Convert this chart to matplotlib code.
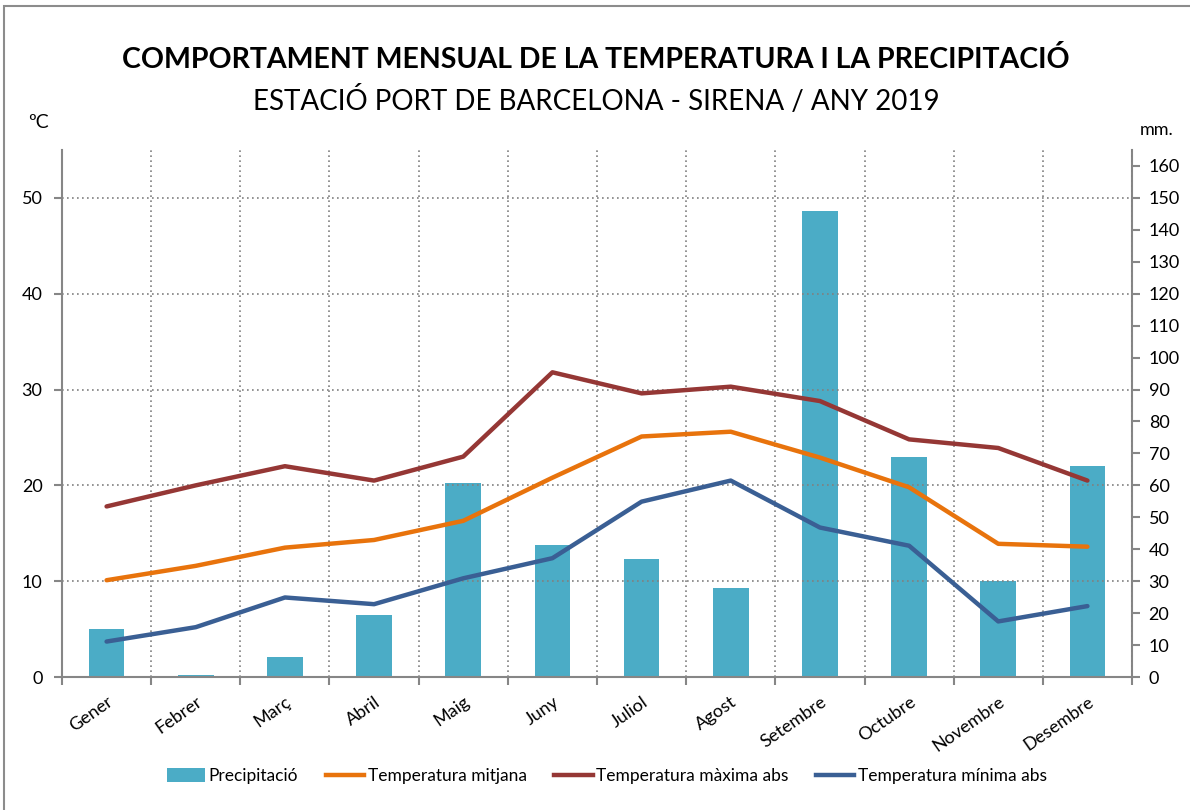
"""
Comportament mensual de la temperatura i la precipitació
Estació Port de Barcelona - Sirena, any 2019
"""

import matplotlib
matplotlib.use("Agg")
import matplotlib.pyplot as plt
from matplotlib.patches import Rectangle, Patch
from matplotlib.lines import Line2D
import numpy as np

plt.rcParams["font.family"] = ["Lato", "DejaVu Sans"]

months = ["Gener", "Febrer", "Març", "Abril", "Maig", "Juny", "Juliol",
          "Agost", "Setembre", "Octubre", "Novembre", "Desembre"]
precip = [15.0, 0.6, 6.3, 19.4, 60.7, 41.2, 36.8, 28.0, 146.0, 69.0, 30.2, 66.0]
t_mean = [10.1, 11.6, 13.5, 14.3, 16.3, 20.8, 25.1, 25.6, 22.9, 19.8, 13.9, 13.6]
t_max = [17.8, 20.0, 22.0, 20.5, 23.0, 31.8, 29.6, 30.3, 28.8, 24.8, 23.9, 20.5]
t_min = [3.7, 5.2, 8.3, 7.6, 10.3, 12.4, 18.3, 20.5, 15.6, 13.7, 5.8, 7.4]

C_BAR = "#4BACC6"
C_MEAN = "#E8730C"
C_MAX = "#953735"
C_MIN = "#3A5F94"
C_AX = "#868686"

fig = plt.figure(figsize=(11.9, 8.1), dpi=100)
# chart-area border (only top and left visible in the crop)
fig.patches.append(Rectangle((4 / 1190, -0.1), 1.2, 1 - 6 / 810 + 0.1,
                             transform=fig.transFigure, fill=False,
                             edgecolor="#8C8C8C", linewidth=1.5))

ax = fig.add_axes([62 / 1190, 1 - 677 / 810, 1070 / 1190, 527 / 810])
ax2 = ax.twinx()
x = np.arange(len(months))

# precipitation bars on the right axis, drawn behind the lines
ax2.bar(x, precip, width=0.4, color=C_BAR, zorder=1)
ax2.set_ylim(0, 165)
ax2.set_yticks(np.arange(0, 161, 10))
ax.set_zorder(ax2.get_zorder() + 1)
ax.patch.set_visible(False)

lw = 3.2
ax.plot(x, t_mean, color=C_MEAN, lw=lw, solid_capstyle="round", zorder=3)
ax.plot(x, t_max, color=C_MAX, lw=lw, solid_capstyle="round", zorder=3)
ax.plot(x, t_min, color=C_MIN, lw=lw, solid_capstyle="round", zorder=3)

ax.set_xlim(-0.5, 11.5)
ax.set_ylim(0, 55)
ax.set_yticks(np.arange(0, 51, 10))
ax.set_xticks(x)
ax.set_xticklabels(months, rotation=35, ha="right", rotation_mode="anchor",
                   fontsize=13)
ax.set_xticks(np.arange(-0.5, 12, 1), minor=True)
ax.tick_params(axis="x", which="major", length=0, pad=12)
ax.tick_params(axis="x", which="minor", length=6, color=C_AX, width=1.5)
ax.tick_params(axis="y", length=6, color=C_AX, width=1.5, labelsize=13, pad=8)
ax2.tick_params(axis="y", length=6, color=C_AX, width=1.5, labelsize=13, pad=6)

# dotted grid: horizontal at left ticks, vertical at category boundaries
ax.grid(axis="y", which="major", linestyle=(0, (1, 2)), color="#808080", lw=1.2)
ax.grid(axis="x", which="minor", linestyle=(0, (1, 2)), color="#808080", lw=1.2)
ax.grid(axis="x", which="major", visible=False)

for a in (ax, ax2):
    a.spines["top"].set_visible(False)
    for s in ("left", "right", "bottom"):
        a.spines[s].set_color(C_AX)
        a.spines[s].set_linewidth(1.5)
ax.spines["right"].set_visible(False)
ax2.spines["left"].set_visible(False)
ax2.spines["bottom"].set_visible(False)

fig.text(0.501, 1 - 60 / 810, "COMPORTAMENT MENSUAL DE LA TEMPERATURA I LA PRECIPITACIÓ",
         ha="center", va="center", fontsize=20.5, fontweight="bold")
fig.text(0.501, 1 - 101 / 810, "ESTACIÓ PORT DE BARCELONA - SIRENA / ANY 2019",
         ha="center", va="center", fontsize=20)
fig.text(28 / 1190, 1 - 123 / 810, "ºC", ha="left", va="center", fontsize=14)
fig.text(1140 / 1190, 1 - 130 / 810, "mm.", ha="left", va="center", fontsize=13)

handles = [
    Patch(facecolor=C_BAR, edgecolor="none"),
    Line2D([], [], color=C_MEAN, lw=lw),
    Line2D([], [], color=C_MAX, lw=lw),
    Line2D([], [], color=C_MIN, lw=lw),
]
labels = ["Precipitació", "Temperatura mitjana", "Temperatura màxima abs",
          "Temperatura mínima abs"]
fig.legend(handles, labels, loc="center", bbox_to_anchor=(0.51, 1 - 776 / 810),
           ncol=4, frameon=False, fontsize=12.5, handlelength=2.2,
           handleheight=0.9, handletextpad=0.2, columnspacing=1.6)

fig.savefig("out.png", dpi=100)
plt.close(fig)
